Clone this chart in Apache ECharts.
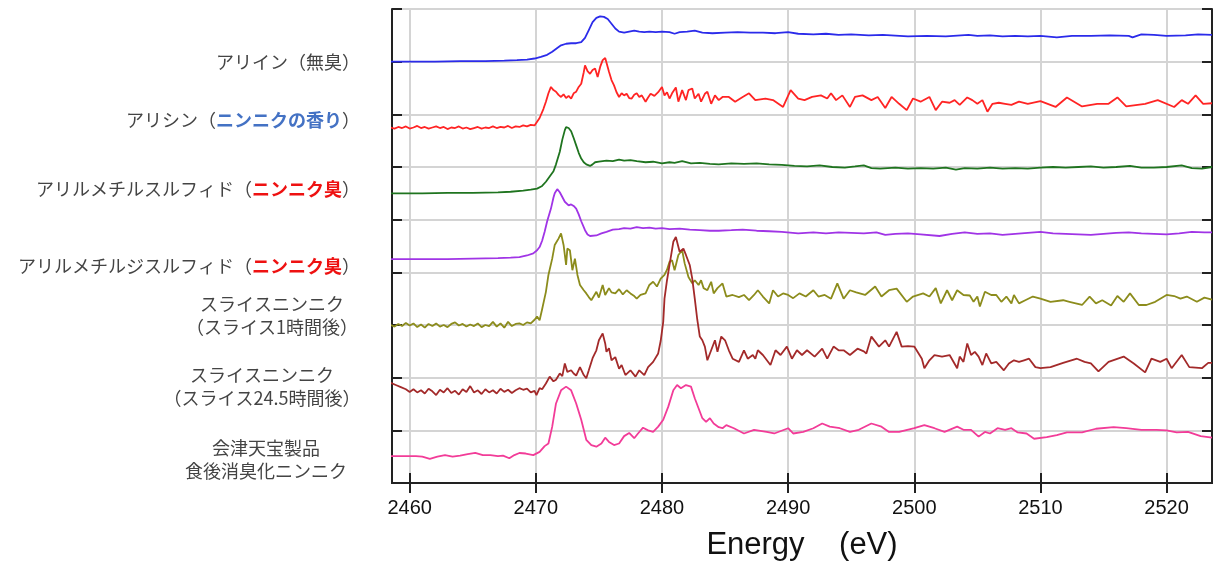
<!DOCTYPE html>
<html>
<head>
<meta charset="utf-8">
<script src="https://cdn.jsdelivr.net/npm/echarts@6/dist/echarts.min.js"></script>
<style>
  html, body { margin: 0; padding: 0; background: #fff; }
  #main { width: 1214px; height: 565px; }
</style>
</head>
<body>
<div id="main"></div>
<script>
// x axis tick labels (eV)
const xTicks = [2460, 2470, 2480, 2490, 2500, 2510, 2520];

// spectra, offset for stacking: [energy, intensity]
const alliin = [[2458.5,8.00],[2460,8.00],[2462,8.00],[2464,8.01],[2466,8.01],[2467.5,8.02],[2468.5,8.03],[2469.3,8.04],[2469.9,8.06],[2470.4,8.09],[2470.9,8.13],[2471.3,8.19],[2471.7,8.26],[2472.0,8.31],[2472.4,8.34],[2472.8,8.35],[2473.2,8.35],[2473.6,8.37],[2473.9,8.45],[2474.2,8.60],[2474.5,8.75],[2474.8,8.83],[2475.1,8.86],[2475.4,8.85],[2475.7,8.81],[2476.0,8.72],[2476.3,8.63],[2476.6,8.57],[2477.0,8.55],[2477.4,8.57],[2477.8,8.59],[2478.2,8.57],[2478.6,8.56],[2479.0,8.57],[2479.5,8.56],[2480.0,8.57],[2480.6,8.56],[2481.0,8.53],[2481.4,8.56],[2482,8.57],[2482.6,8.59],[2483.2,8.55],[2484,8.54],[2485,8.55],[2486,8.56],[2487,8.55],[2488,8.55],[2489,8.54],[2490,8.56],[2490.8,8.53],[2492,8.52],[2493,8.53],[2494,8.51],[2495,8.52],[2496.4,8.50],[2497.5,8.51],[2499.5,8.48],[2501,8.49],[2502.5,8.48],[2504.3,8.51],[2505,8.49],[2506,8.50],[2507,8.48],[2508,8.49],[2509,8.48],[2510,8.49],[2511.3,8.46],[2512.5,8.49],[2514,8.49],[2515.5,8.50],[2517.0,8.49],[2517.3,8.46],[2518,8.52],[2519,8.51],[2520,8.49],[2521.5,8.50],[2522.5,8.52],[2523.6,8.51]];

const allicin = [[2458.5,6.75],[2458.8,6.73],[2459.1,6.76],[2459.4,6.74],[2459.7,6.77],[2460.0,6.73],[2460.3,6.75],[2460.6,6.78],[2460.9,6.74],[2461.2,6.76],[2461.5,6.73],[2461.8,6.75],[2462.1,6.77],[2462.4,6.74],[2462.7,6.76],[2463.0,6.72],[2463.3,6.75],[2463.6,6.74],[2463.9,6.77],[2464.2,6.73],[2464.5,6.75],[2464.8,6.72],[2465.1,6.74],[2465.4,6.76],[2465.7,6.73],[2466.0,6.75],[2466.3,6.74],[2466.6,6.77],[2466.9,6.74],[2467.2,6.76],[2467.5,6.75],[2467.8,6.78],[2468.1,6.74],[2468.4,6.77],[2468.7,6.76],[2469.0,6.79],[2469.3,6.77],[2469.6,6.80],[2469.9,6.79],[2470.1,6.86],[2470.3,6.93],[2470.6,7.10],[2470.8,7.24],[2471.0,7.40],[2471.2,7.52],[2471.4,7.46],[2471.6,7.43],[2471.8,7.37],[2472.0,7.33],[2472.2,7.38],[2472.4,7.31],[2472.6,7.35],[2472.8,7.30],[2473.0,7.40],[2473.2,7.43],[2473.4,7.52],[2473.6,7.58],[2473.8,7.80],[2473.9,7.93],[2474.1,7.82],[2474.3,7.77],[2474.5,7.84],[2474.7,7.87],[2474.9,7.71],[2475.1,7.90],[2475.3,8.03],[2475.5,8.07],[2475.6,8.09],[2475.8,7.81],[2476.0,7.65],[2476.2,7.55],[2476.4,7.42],[2476.6,7.33],[2476.8,7.40],[2477.0,7.36],[2477.2,7.39],[2477.4,7.31],[2477.6,7.30],[2477.8,7.37],[2478.0,7.40],[2478.2,7.33],[2478.4,7.36],[2478.7,7.24],[2478.9,7.32],[2479.1,7.39],[2479.4,7.35],[2479.7,7.42],[2480.0,7.52],[2480.2,7.36],[2480.4,7.42],[2480.6,7.30],[2480.8,7.40],[2481.1,7.51],[2481.3,7.24],[2481.6,7.46],[2481.9,7.27],[2482.1,7.46],[2482.4,7.49],[2482.6,7.30],[2482.9,7.39],[2483.1,7.24],[2483.4,7.39],[2483.6,7.43],[2483.9,7.20],[2484.2,7.36],[2484.5,7.27],[2484.8,7.33],[2485.3,7.33],[2485.8,7.24],[2486.4,7.33],[2486.9,7.40],[2487.4,7.27],[2488.2,7.30],[2488.8,7.27],[2489.6,7.14],[2490.2,7.46],[2490.8,7.30],[2491.3,7.27],[2491.9,7.33],[2492.6,7.36],[2493.1,7.30],[2493.4,7.40],[2493.8,7.27],[2494.3,7.36],[2494.9,7.14],[2495.3,7.33],[2495.9,7.36],[2496.6,7.27],[2497.1,7.33],[2497.7,7.12],[2498.2,7.33],[2498.8,7.20],[2499.4,7.08],[2499.9,7.30],[2500.5,7.24],[2501.2,7.33],[2501.7,7.08],[2502.2,7.24],[2502.8,7.22],[2503.2,7.27],[2503.6,7.18],[2504.2,7.32],[2504.6,7.27],[2505.0,7.20],[2505.4,7.27],[2505.8,7.05],[2506.2,7.20],[2506.7,7.22],[2507.2,7.20],[2507.7,7.18],[2508.3,7.24],[2509.0,7.20],[2510.0,7.25],[2511.2,7.14],[2512.1,7.32],[2513.3,7.15],[2514.5,7.20],[2515.4,7.20],[2516.1,7.32],[2516.8,7.15],[2518.3,7.20],[2519.3,7.27],[2520.6,7.14],[2521.2,7.27],[2521.7,7.20],[2522.3,7.36],[2522.9,7.20],[2523.6,7.21]];

const allylMethylSulfide = [[2458.5,5.50],[2461,5.50],[2463,5.51],[2465,5.51],[2467,5.52],[2468,5.53],[2469,5.55],[2469.6,5.57],[2470.1,5.59],[2470.5,5.64],[2470.8,5.72],[2471.1,5.82],[2471.4,5.92],[2471.6,6.05],[2471.9,6.29],[2472.1,6.52],[2472.3,6.70],[2472.4,6.76],[2472.6,6.74],[2472.8,6.68],[2473.0,6.55],[2473.2,6.41],[2473.4,6.27],[2473.6,6.16],[2473.8,6.09],[2474.0,6.05],[2474.3,6.02],[2474.5,6.05],[2474.7,6.09],[2475.0,6.10],[2475.6,6.12],[2476.1,6.11],[2476.6,6.14],[2477.0,6.12],[2477.5,6.13],[2478.0,6.11],[2478.7,6.09],[2479.3,6.10],[2480.0,6.07],[2480.6,6.09],[2481.0,6.08],[2481.6,6.11],[2482.3,6.07],[2483.0,6.08],[2483.8,6.06],[2484.5,6.05],[2485.5,6.07],[2486.5,6.06],[2487.5,6.07],[2488.5,6.05],[2489.5,6.04],[2490.5,6.02],[2491.5,6.01],[2492.5,6.03],[2493.5,6.00],[2494.5,5.99],[2495.3,6.01],[2496.0,6.03],[2496.6,5.98],[2497.3,5.97],[2498.5,5.99],[2499.5,5.97],[2500.5,5.98],[2501.5,5.97],[2502.5,5.99],[2503.3,5.95],[2504,5.98],[2505,5.97],[2506,5.99],[2507,5.97],[2508,5.98],[2509,5.97],[2510,5.99],[2511,6.00],[2512,5.99],[2513,6.00],[2514,6.01],[2515,5.99],[2516,6.00],[2517.1,6.02],[2518,5.99],[2519,5.99],[2520,6.00],[2521.2,6.03],[2522,5.98],[2522.8,5.97],[2523.6,6.00]];

const allylMethylDisulfide = [[2458.5,4.25],[2461,4.25],[2463,4.25],[2465,4.26],[2467,4.27],[2468,4.28],[2468.7,4.29],[2469.3,4.32],[2469.8,4.36],[2470.1,4.42],[2470.3,4.48],[2470.5,4.60],[2470.7,4.77],[2470.9,4.97],[2471.2,5.21],[2471.4,5.42],[2471.5,5.50],[2471.7,5.58],[2471.9,5.52],[2472.1,5.43],[2472.3,5.34],[2472.6,5.27],[2472.8,5.29],[2473.0,5.26],[2473.2,5.21],[2473.4,5.10],[2473.6,4.97],[2473.9,4.80],[2474.1,4.72],[2474.3,4.69],[2474.8,4.70],[2475.2,4.74],[2475.6,4.77],[2476.1,4.81],[2476.6,4.82],[2477.0,4.84],[2477.5,4.83],[2478.0,4.86],[2478.5,4.84],[2479.0,4.85],[2479.5,4.83],[2480.0,4.84],[2480.6,4.82],[2481.4,4.83],[2482.2,4.81],[2483.0,4.80],[2483.8,4.79],[2484.5,4.79],[2485.5,4.80],[2486.4,4.81],[2487.5,4.79],[2488.5,4.78],[2489.5,4.77],[2490.8,4.74],[2492,4.76],[2493,4.74],[2494,4.76],[2495,4.75],[2496,4.74],[2497,4.76],[2497.7,4.71],[2498.5,4.73],[2499.5,4.74],[2500.5,4.72],[2502,4.69],[2503,4.73],[2504,4.76],[2505,4.73],[2506,4.74],[2507,4.71],[2508,4.73],[2509,4.75],[2510,4.77],[2511,4.74],[2512,4.73],[2513,4.72],[2514,4.71],[2515,4.73],[2516,4.75],[2517,4.76],[2518,4.74],[2519,4.73],[2520,4.72],[2521,4.74],[2522,4.77],[2523,4.76],[2523.6,4.76]];

const slice1h = [[2458.5,3.00],[2458.8,2.97],[2459.1,3.02],[2459.4,2.98],[2459.7,3.04],[2460.0,2.99],[2460.3,3.03],[2460.6,2.96],[2460.9,3.01],[2461.2,2.95],[2461.5,3.02],[2461.8,2.98],[2462.1,3.03],[2462.4,2.97],[2462.7,3.00],[2463.0,2.96],[2463.3,3.02],[2463.6,3.05],[2463.9,2.99],[2464.2,3.02],[2464.5,2.97],[2464.8,3.01],[2465.1,2.98],[2465.4,3.03],[2465.7,2.96],[2466.0,3.00],[2466.3,2.98],[2466.6,3.06],[2466.9,2.97],[2467.2,3.03],[2467.5,2.95],[2467.8,3.06],[2468.1,2.98],[2468.4,3.02],[2468.7,3.03],[2469.0,3.00],[2469.3,3.05],[2469.6,3.03],[2469.9,3.10],[2470.1,3.16],[2470.3,3.09],[2470.5,3.30],[2470.8,3.63],[2471.0,3.95],[2471.3,4.26],[2471.5,4.52],[2471.7,4.60],[2471.8,4.64],[2472.0,4.74],[2472.2,4.52],[2472.4,4.14],[2472.5,4.45],[2472.7,4.42],[2472.8,4.39],[2472.9,4.04],[2473.1,4.26],[2473.3,3.95],[2473.5,3.76],[2473.8,3.66],[2474.0,3.60],[2474.2,3.53],[2474.4,3.47],[2474.6,3.55],[2474.8,3.63],[2475.0,3.52],[2475.3,3.76],[2475.5,3.57],[2475.8,3.70],[2476.0,3.62],[2476.3,3.60],[2476.6,3.68],[2476.9,3.58],[2477.2,3.66],[2477.5,3.60],[2477.8,3.55],[2478.0,3.50],[2478.3,3.57],[2478.7,3.60],[2479.0,3.76],[2479.3,3.82],[2479.6,3.73],[2479.9,3.88],[2480.2,3.95],[2480.4,4.05],[2480.6,4.20],[2480.8,4.23],[2481.0,4.04],[2481.3,4.33],[2481.6,4.42],[2481.8,4.17],[2482.1,3.91],[2482.4,3.79],[2482.6,3.85],[2482.9,3.76],[2483.1,3.85],[2483.3,3.70],[2483.6,3.66],[2483.9,3.82],[2484.1,3.60],[2484.4,3.70],[2484.8,3.79],[2485.1,3.54],[2485.6,3.57],[2486.1,3.53],[2486.5,3.57],[2486.9,3.47],[2487.3,3.57],[2487.6,3.66],[2488.0,3.54],[2488.5,3.41],[2488.8,3.66],[2489.2,3.54],[2489.6,3.60],[2490.0,3.57],[2490.4,3.51],[2490.9,3.60],[2491.4,3.54],[2492.0,3.66],[2492.4,3.54],[2492.9,3.57],[2493.4,3.50],[2493.9,3.79],[2494.4,3.50],[2494.9,3.66],[2495.4,3.62],[2496.1,3.57],[2496.9,3.73],[2497.4,3.54],[2498.0,3.66],[2498.6,3.69],[2499.4,3.44],[2499.9,3.54],[2500.7,3.60],[2501.2,3.54],[2501.7,3.70],[2502.1,3.41],[2502.6,3.66],[2503.0,3.47],[2503.4,3.66],[2503.9,3.57],[2504.4,3.56],[2504.7,3.44],[2505.0,3.54],[2505.2,3.35],[2505.6,3.63],[2506.1,3.57],[2506.5,3.57],[2506.9,3.44],[2507.3,3.54],[2507.7,3.41],[2507.9,3.57],[2508.3,3.41],[2508.8,3.47],[2509.4,3.54],[2510.0,3.50],[2510.8,3.44],[2511.8,3.47],[2512.3,3.44],[2513.3,3.38],[2513.9,3.54],[2514.4,3.41],[2514.9,3.47],[2515.6,3.37],[2516.1,3.55],[2516.6,3.44],[2517.1,3.60],[2517.8,3.38],[2518.4,3.38],[2519.1,3.44],[2520.0,3.57],[2520.6,3.55],[2521.1,3.50],[2521.6,3.54],[2522.4,3.44],[2523.0,3.52],[2523.6,3.48]];

const slice24h = [[2458.5,1.90],[2458.9,1.86],[2459.3,1.82],[2459.7,1.78],[2460.0,1.73],[2460.3,1.78],[2460.6,1.72],[2460.9,1.76],[2461.2,1.70],[2461.5,1.79],[2461.8,1.74],[2462.1,1.67],[2462.4,1.77],[2462.7,1.72],[2463.0,1.80],[2463.3,1.71],[2463.6,1.75],[2463.9,1.68],[2464.2,1.78],[2464.5,1.73],[2464.8,1.84],[2465.1,1.72],[2465.4,1.76],[2465.7,1.69],[2466.0,1.78],[2466.3,1.72],[2466.6,1.76],[2466.9,1.70],[2467.2,1.79],[2467.5,1.73],[2467.8,1.77],[2468.1,1.71],[2468.4,1.76],[2468.7,1.80],[2469.0,1.77],[2469.3,1.79],[2469.6,1.72],[2469.9,1.75],[2470.05,1.67],[2470.3,1.80],[2470.5,1.78],[2470.8,1.89],[2471.1,2.02],[2471.4,1.93],[2471.6,1.96],[2471.9,2.08],[2472.1,2.03],[2472.3,2.27],[2472.5,2.11],[2472.8,2.14],[2473.0,2.08],[2473.2,2.04],[2473.5,2.20],[2473.8,2.05],[2474.0,1.99],[2474.2,2.14],[2474.5,2.37],[2474.8,2.52],[2475.0,2.71],[2475.3,2.84],[2475.5,2.65],[2475.6,2.49],[2475.8,2.56],[2476.0,2.33],[2476.3,2.39],[2476.6,2.17],[2476.8,2.24],[2477.1,2.05],[2477.5,2.14],[2477.9,2.02],[2478.2,2.14],[2478.6,2.05],[2478.9,2.20],[2479.3,2.30],[2479.7,2.46],[2479.9,2.70],[2480.1,3.06],[2480.2,3.50],[2480.4,3.85],[2480.6,4.14],[2480.9,4.58],[2481.1,4.67],[2481.4,4.39],[2481.7,4.45],[2481.9,4.33],[2482.2,4.14],[2482.4,3.88],[2482.6,3.50],[2482.8,3.10],[2483.0,2.78],[2483.2,2.71],[2483.4,2.59],[2483.6,2.33],[2483.9,2.52],[2484.2,2.71],[2484.4,2.49],[2484.7,2.78],[2485.0,2.71],[2485.3,2.52],[2485.6,2.36],[2486.1,2.30],[2486.5,2.52],[2486.8,2.36],[2487.2,2.43],[2487.4,2.36],[2487.6,2.52],[2488.0,2.43],[2488.6,2.24],[2489.0,2.52],[2489.4,2.43],[2489.9,2.59],[2490.3,2.36],[2490.7,2.52],[2491.1,2.43],[2491.5,2.52],[2492.1,2.40],[2492.7,2.55],[2493.1,2.36],[2493.6,2.59],[2494.0,2.52],[2494.4,2.52],[2494.9,2.43],[2495.5,2.55],[2496.0,2.50],[2496.2,2.46],[2496.6,2.78],[2497.2,2.59],[2497.7,2.71],[2498.0,2.59],[2498.6,2.87],[2499.0,2.59],[2499.5,2.60],[2500.0,2.59],[2500.6,2.36],[2500.8,2.18],[2501.2,2.33],[2501.6,2.43],[2502.2,2.40],[2502.8,2.43],[2503.4,2.18],[2503.6,2.40],[2503.9,2.30],[2504.2,2.65],[2504.5,2.43],[2504.8,2.49],[2505.1,2.40],[2505.4,2.24],[2505.7,2.46],[2506.1,2.27],[2506.5,2.30],[2507.1,2.14],[2507.5,2.27],[2507.9,2.33],[2508.3,2.30],[2508.7,2.33],[2509.1,2.36],[2509.6,2.20],[2510.0,2.18],[2510.8,2.20],[2511.8,2.28],[2512.9,2.36],[2513.5,2.30],[2514.0,2.27],[2514.6,2.12],[2515.4,2.30],[2516.6,2.40],[2517.4,2.27],[2518.3,2.10],[2518.8,2.36],[2519.5,2.30],[2520.0,2.36],[2520.4,2.18],[2521.2,2.43],[2521.8,2.20],[2522.8,2.18],[2523.3,2.28],[2523.6,2.28]];

const aizuProduct = [[2458.5,0.51],[2459.5,0.51],[2460.5,0.51],[2461.0,0.50],[2461.6,0.46],[2462.2,0.50],[2462.8,0.53],[2463.4,0.50],[2464.0,0.52],[2464.6,0.55],[2465.2,0.57],[2465.8,0.53],[2466.4,0.53],[2467.0,0.51],[2467.4,0.52],[2467.9,0.47],[2468.3,0.53],[2468.7,0.57],[2469.2,0.56],[2469.8,0.53],[2470.3,0.59],[2470.7,0.70],[2471.0,0.75],[2471.3,1.07],[2471.6,1.51],[2472.0,1.76],[2472.4,1.83],[2472.8,1.76],[2473.2,1.51],[2473.6,1.20],[2474.0,0.82],[2474.4,0.72],[2474.8,0.69],[2475.2,0.75],[2475.5,0.86],[2475.8,0.78],[2476.2,0.72],[2476.6,0.75],[2477.0,0.89],[2477.4,0.95],[2477.8,0.85],[2478.1,0.94],[2478.5,1.05],[2478.9,1.00],[2479.3,0.97],[2479.7,1.07],[2480.1,1.20],[2480.5,1.45],[2480.9,1.76],[2481.2,1.86],[2481.5,1.80],[2481.9,1.86],[2482.3,1.83],[2482.6,1.61],[2482.9,1.42],[2483.2,1.23],[2483.5,1.16],[2483.8,1.23],[2484.1,1.13],[2484.5,1.06],[2484.8,1.04],[2485.1,1.10],[2485.7,1.04],[2486.5,0.94],[2487.3,1.01],[2488.3,0.97],[2488.9,0.94],[2490.0,1.04],[2490.4,0.94],[2491.2,0.97],[2492.0,1.04],[2492.7,1.13],[2493.3,1.07],[2494.1,1.04],[2494.9,0.97],[2495.6,1.01],[2496.6,1.13],[2497.4,1.07],[2498.0,0.97],[2498.8,0.97],[2500.0,1.04],[2500.8,1.10],[2501.6,1.04],[2502.4,0.97],[2503.4,1.07],[2503.9,1.01],[2504.5,1.01],[2505.1,0.88],[2505.6,0.97],[2506.0,0.94],[2506.6,1.04],[2507.2,1.01],[2507.7,1.04],[2508.2,0.96],[2508.9,0.94],[2509.5,0.84],[2510.5,0.87],[2511.3,0.91],[2512.1,0.96],[2513.3,0.96],[2514.4,1.03],[2515.8,1.06],[2516.8,1.04],[2518.0,1.01],[2519.2,1.01],[2520.0,1.00],[2520.8,0.96],[2521.7,0.97],[2522.7,0.89],[2523.6,0.86]];

const seriesList = [
  ['アリイン', alliin, '#2b2bea'],
  ['アリシン', allicin, '#ff2424'],
  ['アリルメチルスルフィド', allylMethylSulfide, '#1f741f'],
  ['アリルメチルジスルフィド', allylMethylDisulfide, '#a034e6'],
  ['スライス1時間後', slice1h, '#8c8c1c'],
  ['スライス24.5時間後', slice24h, '#a32a2a'],
  ['会津天宝製品', aizuProduct, '#f23c98']
];

const jp = '"Noto Sans CJK JP", "Noto Sans", sans-serif';
const grayText = '#444444';
// zrender text styles use fill, not color
const rich = {
  n: { fontSize: 18, fontFamily: jp, fill: grayText },
  b: { fontSize: 18, fontFamily: jp, fill: '#4472c4', fontWeight: 'bold' },
  r: { fontSize: 18, fontFamily: jp, fill: '#ee1111', fontWeight: 'bold' }
};

function rightLabel(text, y) {
  return { type: 'text', x: 360, y: y,
    style: { text: text, rich: rich, align: 'right', verticalAlign: 'middle' } };
}
function centerLabel(text, x, y) {
  return { type: 'text', x: x, y: y,
    style: { text: text, align: 'center', verticalAlign: 'middle', lineHeight: 23,
      fontSize: 18, fontFamily: jp, fill: grayText } };
}

const axisCol = '#222';
const chart = echarts.init(document.getElementById('main'));

chart.setOption({
  animation: false,
  // keep the plot box fixed; v6 would otherwise shrink it to fit the axis name
  grid: { left: 392, right: 2, top: 9, bottom: 82, outerBoundsMode: 'none' },
  xAxis: [{
    type: 'value', min: 2458.6, max: 2523.6, position: 'bottom',
    name: 'Energy    (eV)', nameLocation: 'middle', nameGap: 47,
    nameTextStyle: { fontSize: 31, color: '#111', fontFamily: '"Liberation Sans", Arial, sans-serif' },
    axisLine: { show: true, lineStyle: { color: axisCol, width: 2 } },
    axisTick: { show: true, inside: true, length: 10, customValues: xTicks, lineStyle: { color: axisCol, width: 2 } },
    axisLabel: { customValues: xTicks, fontSize: 20, color: '#111', margin: 15,
      fontFamily: '"Liberation Sans", Arial, sans-serif',
      formatter: function (v) { return String(v); } },
    splitLine: { show: true, lineStyle: { color: '#d4d4d4', width: 2 } }
  }, {
    type: 'value', min: 2458.6, max: 2523.6, position: 'top',
    axisLine: { show: true, lineStyle: { color: axisCol, width: 2 } },
    axisTick: { show: true, inside: true, length: 10, customValues: xTicks, lineStyle: { color: axisCol, width: 2 } },
    axisLabel: { show: false }, splitLine: { show: false }
  }],
  yAxis: [{
    type: 'value', min: 0, max: 9, interval: 1, position: 'left',
    axisLine: { show: true, lineStyle: { color: axisCol, width: 2 } },
    axisTick: { show: true, inside: true, length: 10, lineStyle: { color: axisCol, width: 2 } },
    axisLabel: { show: false },
    splitLine: { show: true, lineStyle: { color: '#d4d4d4', width: 2 } }
  }, {
    type: 'value', min: 0, max: 9, interval: 1, position: 'right',
    axisLine: { show: true, lineStyle: { color: axisCol, width: 2 } },
    axisTick: { show: true, inside: true, length: 10, lineStyle: { color: axisCol, width: 2 } },
    axisLabel: { show: false }, splitLine: { show: false }
  }],
  series: seriesList.map(function (s) {
    return { name: s[0], type: 'line', data: s[1], symbol: 'none', smooth: false,
      lineStyle: { color: s[2], width: 1.8 }, itemStyle: { color: s[2] } };
  }),
  graphic: [
    rightLabel('{n|アリイン（無臭）}', 62),
    rightLabel('{n|アリシン（}{b|ニンニクの香り}{n|）}', 120),
    rightLabel('{n|アリルメチルスルフィド（}{r|ニンニク臭}{n|）}', 189),
    rightLabel('{n|アリルメチルジスルフィド（}{r|ニンニク臭}{n|）}', 266),
    centerLabel('スライスニンニク\n（スライス1時間後）', 272, 316),
    centerLabel('スライスニンニク\n（スライス24.5時間後）', 262, 387),
    centerLabel('会津天宝製品\n食後消臭化ニンニク', 266, 460)
  ]
});
</script>
</body>
</html>
